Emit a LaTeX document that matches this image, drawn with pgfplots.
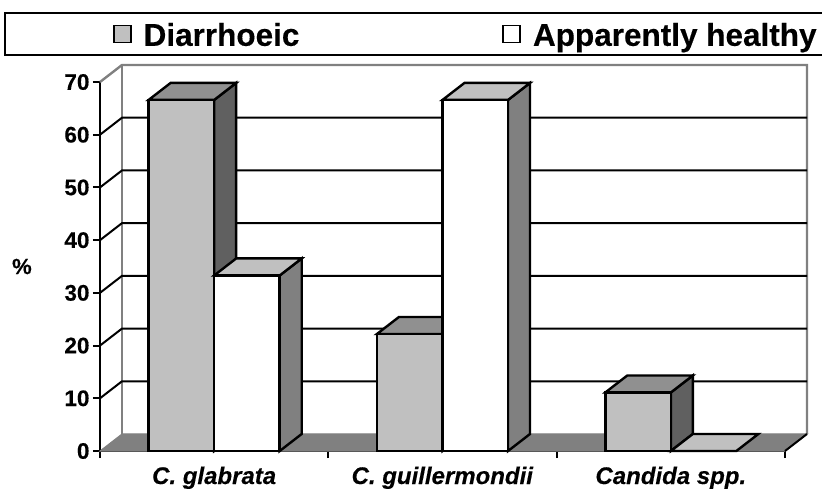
\documentclass[border=0pt]{standalone}
\usepackage{fontspec}
\setmainfont{Liberation Sans}[BoldFeatures={FakeBold=0.3},BoldItalicFeatures={FakeBold=0.3}]
\usepackage{pgfplots}
\pgfplotsset{compat=1.18}
\definecolor{dFront}{HTML}{C0C0C0}
\definecolor{dTop}{HTML}{909090}
\definecolor{dSide}{HTML}{606060}
\definecolor{hTop}{HTML}{C0C0C0}
\definecolor{hSide}{HTML}{808080}
\definecolor{wallc}{HTML}{808080}
\begin{document}
\begin{tikzpicture}[x=1pt,y=1pt]
\path[use as bounding box] (-100pt,-37pt) rectangle (722pt,451pt);
\begin{axis}[
  at={(0pt,0pt)}, anchor=south west,
  scale only axis, width=685pt, height=369pt,
  clip=false,
  xmin=-0.5, xmax=2.5, ymin=0, ymax=70,
  axis lines=left,
  axis line style={-, line width=2.2pt, black},
  tick style={line width=2pt, black},
  major tick length=7pt,
  tick align=outside,
  xtick={-0.5,0.5,1.5,2.5}, xticklabels={},
  extra x ticks={0,1,2},
  extra x tick labels={\textit{C. glabrata},\textit{C. guillermondii},\textit{Candida spp.}},
  extra x tick style={major tick length=0pt, tick style={draw=none}},
  xticklabel style={font=\fontsize{24pt}{25pt}\selectfont\bfseries, anchor=base, yshift=-33pt},
  ytick={0,10,...,70},
  yticklabel style={font=\fontsize{22.5pt}{24pt}\selectfont\bfseries, /pgf/number format/assume math mode=true},
  ylabel={\%},
  ylabel style={rotate=-90, at={(rel axis cs:-0.114,0.5)}, anchor=center, font=\fontsize{22pt}{23pt}\selectfont\bfseries},
  legend image code/.code={\draw[#1, line width=1.6pt] (0pt,-7.5pt) rectangle (17pt,9.5pt);},
  legend style={at={(rel axis cs:0.019,1.127)}, anchor=west, draw=none, fill=none, inner sep=0pt, outer sep=0pt,
    legend columns=2, legend cell align=left,
    nodes={font=\fontsize{31.5pt}{33pt}\selectfont\bfseries, inner sep=0pt, outer sep=0pt},
    /tikz/every odd column/.append style={column sep=12pt},
    /tikz/every even column/.append style={column sep=203pt}},
]
\addlegendimage{fill=dFront, draw=black}
\addlegendentry{Diarrhoeic}
\addlegendimage{fill=white, draw=black}
\addlegendentry{Apparently healthy}

% floor
\addplot[forget plot, fill=wallc, draw=wallc, line width=1pt] coordinates {(-0.5,0) (-0.4036,3.23) (2.5964,3.23) (2.5,0)} -- cycle;
% back wall edges
\addplot[forget plot, draw=wallc, line width=2.4pt] coordinates {(-0.5,70) (-0.4036,73.23) (2.5964,73.23) (2.5964,3.23)};
\addplot[forget plot, draw=wallc, line width=2.4pt] coordinates {(-0.4036,73.23) (-0.4036,3.23)};
% grid lines on wall
\addplot[forget plot, draw=black, line width=2pt] coordinates {(-0.5,10) (-0.4036,13.23) (2.5964,13.23)};
\addplot[forget plot, draw=black, line width=2pt] coordinates {(-0.5,20) (-0.4036,23.23) (2.5964,23.23)};
\addplot[forget plot, draw=black, line width=2pt] coordinates {(-0.5,30) (-0.4036,33.23) (2.5964,33.23)};
\addplot[forget plot, draw=black, line width=2pt] coordinates {(-0.5,40) (-0.4036,43.23) (2.5964,43.23)};
\addplot[forget plot, draw=black, line width=2pt] coordinates {(-0.5,50) (-0.4036,53.23) (2.5964,53.23)};
\addplot[forget plot, draw=black, line width=2pt] coordinates {(-0.5,60) (-0.4036,63.23) (2.5964,63.23)};
\addplot[forget plot, draw=black, line width=2pt] coordinates {(2.5,0) (2.5964,3.23)};

\pgfplotsset{barline/.style={forget plot, draw=black, line width=2.4pt, line join=miter}}
% C. glabrata, Diarrhoeic 66.6
\addplot[barline, fill=dSide] coordinates {(0,0) (0.0964,3.23) (0.0964,69.83) (0,66.6)} -- cycle;
\addplot[barline, fill=dTop] coordinates {(-0.287,66.6) (-0.1906,69.83) (0.0964,69.83) (0,66.6)} -- cycle;
\addplot[barline, fill=dFront] coordinates {(-0.287,0) (-0.287,66.6) (0,66.6) (0,0)} -- cycle;
% C. glabrata, Apparently healthy 33.3
\addplot[barline, fill=hSide] coordinates {(0.287,0) (0.3834,3.23) (0.3834,36.53) (0.287,33.3)} -- cycle;
\addplot[barline, fill=hTop] coordinates {(0,33.3) (0.0964,36.53) (0.3834,36.53) (0.287,33.3)} -- cycle;
\addplot[barline, fill=white] coordinates {(0,0) (0,33.3) (0.287,33.3) (0.287,0)} -- cycle;
% C. guillermondii, Diarrhoeic 22.2
\addplot[barline, fill=dSide] coordinates {(1,0) (1.0964,3.23) (1.0964,25.43) (1,22.2)} -- cycle;
\addplot[barline, fill=dTop] coordinates {(0.713,22.2) (0.8094,25.43) (1.0964,25.43) (1,22.2)} -- cycle;
\addplot[barline, fill=dFront] coordinates {(0.713,0) (0.713,22.2) (1,22.2) (1,0)} -- cycle;
% C. guillermondii, Apparently healthy 66.6
\addplot[barline, fill=hSide] coordinates {(1.287,0) (1.3834,3.23) (1.3834,69.83) (1.287,66.6)} -- cycle;
\addplot[barline, fill=hTop] coordinates {(1,66.6) (1.0964,69.83) (1.3834,69.83) (1.287,66.6)} -- cycle;
\addplot[barline, fill=white] coordinates {(1,0) (1,66.6) (1.287,66.6) (1.287,0)} -- cycle;
% Candida spp., Diarrhoeic 11.1
\addplot[barline, fill=dSide] coordinates {(2,0) (2.0964,3.23) (2.0964,14.33) (2,11.1)} -- cycle;
\addplot[barline, fill=dTop] coordinates {(1.713,11.1) (1.8094,14.33) (2.0964,14.33) (2,11.1)} -- cycle;
\addplot[barline, fill=dFront] coordinates {(1.713,0) (1.713,11.1) (2,11.1) (2,0)} -- cycle;
% Candida spp., Apparently healthy 0
\addplot[barline, fill=hTop] coordinates {(2,0) (2.0964,3.23) (2.3834,3.23) (2.287,0)} -- cycle;
\end{axis}
\draw[line width=2.5pt, black] (-95pt,396pt) rectangle (740pt,438pt);
\end{tikzpicture}
\end{document}
